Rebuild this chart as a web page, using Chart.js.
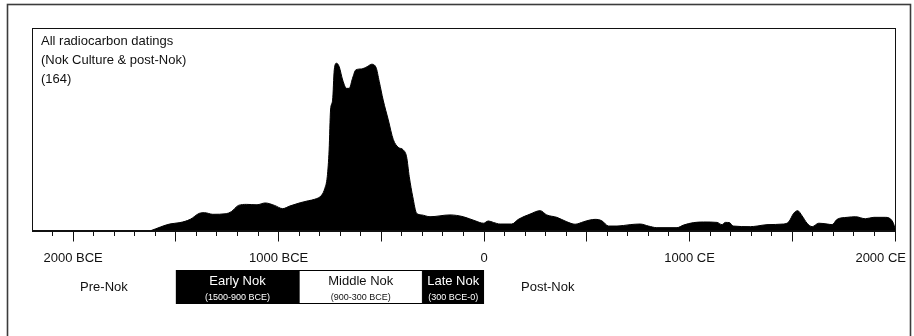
<!DOCTYPE html>
<html>
<head>
<meta charset="utf-8">
<script src="https://cdn.jsdelivr.net/npm/chart.js@4.4.1/dist/chart.umd.min.js"></script>
<style>
  html, body { margin: 0; padding: 0; background: #fff; }
  #wrap { position: relative; width: 914px; height: 336px; }
</style>
</head>
<body>
<div id="wrap"><canvas id="c" width="914" height="336"></canvas></div>
<script>
// Summed radiocarbon probability (relative units, 100 = top of frame)
const years = [
  -1620, -1530, -1480, -1430, -1385, -1360, -1320, -1255, -1230, -1195,
  -1155, -1105, -1065, -1020, -980, -945, -895, -855, -825, -790,
  -775, -763, -754, -747, -737, -729, -718, -705, -688, -669,
  -656, -640, -624, -596, -569, -547, -526, -510, -491, -466,
  -442, -418, -393, -377, -364, -347, -328, -304, -263, -166,
  -101, -44, -3, 21, 45, 78, 135, 167, 224, 273,
  305, 354, 403, 443, 484, 516, 541, 573, 606, 647,
  711, 760, 800, 841, 939, 971, 1020, 1068, 1134, 1158,
  1174, 1194, 1212, 1296, 1329, 1377, 1458, 1483, 1507, 1526,
  1548, 1572, 1597, 1629, 1670, 1694, 1718, 1767, 1808, 1856,
  1897, 1954, 1986, 2000
];
const density = [
  0, 3.2, 3.9, 5.5, 8.5, 8.8, 8.0, 8.3, 9.3, 12.4,
  12.9, 12.7, 13.6, 12.4, 10.8, 12.1, 13.7, 14.7, 15.4, 17.5,
  20.8, 26.6, 39.8, 59.5, 64.4, 79.3, 82.6, 80.9, 74.3, 70.2,
  70.2, 75.2, 79.3, 79.8, 80.9, 82.1, 80.6, 73.5, 64.4, 54.6,
  45.0, 41.1, 39.8, 36.4, 26.6, 16.7, 8.5, 7.7, 6.8, 7.7,
  6.8, 4.8, 3.6, 4.7, 4.0, 3.2, 3.2, 5.5, 8.1, 9.8,
  7.7, 6.5, 4.3, 3.1, 4.3, 5.2, 5.5, 4.8, 2.2, 2.2,
  2.9, 3.2, 2.2, 1.4, 1.4, 2.7, 3.9, 4.2, 4.0, 2.9,
  4.0, 3.9, 2.2, 1.9, 2.2, 2.9, 3.2, 4.3, 8.5, 9.8,
  7.2, 3.6, 1.9, 3.6, 3.2, 2.9, 5.5, 6.5, 6.8, 5.8,
  6.5, 6.5, 4.8, 1.5
];

// Axis: a tick every century, long ticks every 500 years
const axisMin = -2200;
const axisMax = 2000;
const tickYears = [];
for (let y = -2100; y <= 2000; y += 100) tickYears.push(y);
const labelYears = [-2000, -1000, 0, 1000, 2000];
const labelTexts = ['2000 BCE', '1000 BCE', '0', '1000 CE', '2000 CE'];

const titleLines = ['All radiocarbon datings', '(Nok Culture & post-Nok)', '(164)'];

// Phases of the Nok Culture
const phaseNames = ['Early Nok', 'Middle Nok', 'Late Nok'];
const phaseRanges = ['(1500-900 BCE)', '(900-300 BCE)', '(300 BCE-0)'];
const phaseStart = [-1500, -900, -300];
const phaseEnd = [-900, -300, 0];
const phaseDark = [true, false, true];
const outsideNames = ['Pre-Nok', 'Post-Nok'];
const outsideAt = [-1850, 310];

const FONT = '"Liberation Sans", Arial, Helvetica, sans-serif';

const decorations = {
  id: 'decorations',
  afterDraw(chart) {
    const { ctx, chartArea: a, scales } = chart;
    const xs = scales.x;
    ctx.save();

    // outer frame
    ctx.strokeStyle = '#3c3c3c';
    ctx.lineWidth = 1.6;
    ctx.strokeRect(7.5, 4.5, 903, 340);

    // plot frame
    ctx.strokeStyle = '#111';
    ctx.lineWidth = 1;
    ctx.strokeRect(Math.round(a.left) + 0.5, Math.round(a.top) + 0.5,
      Math.round(a.right - a.left), Math.round(a.bottom - a.top));

    // caption in the upper left corner
    ctx.fillStyle = '#111';
    ctx.font = '13px ' + FONT;
    ctx.textAlign = 'left';
    ctx.textBaseline = 'middle';
    titleLines.forEach((t, i) => ctx.fillText(t, a.left + 9, a.top + 13 + i * 19.3));

    // year labels under the axis, kept inside the outer frame
    ctx.textAlign = 'center';
    const labelY = a.bottom + 27.5;
    labelYears.forEach((yr, i) => {
      const w = ctx.measureText(labelTexts[i]).width;
      let cx = xs.getPixelForValue(yr);
      cx = Math.min(cx, chart.width - 8 - w / 2);
      ctx.fillText(labelTexts[i], cx, labelY);
    });

    // phase boxes
    const boxTop = a.bottom + 39.5;
    const boxH = 34;
    phaseNames.forEach((name, i) => {
      const x0 = xs.getPixelForValue(phaseStart[i]);
      const x1 = xs.getPixelForValue(phaseEnd[i]);
      if (phaseDark[i]) {
        ctx.fillStyle = '#000';
        ctx.fillRect(x0, boxTop, x1 - x0, boxH);
      } else {
        ctx.strokeStyle = '#000';
        ctx.lineWidth = 1;
        ctx.strokeRect(x0, boxTop + 0.5, x1 - x0, boxH - 1);
      }
      const cx = (x0 + x1) / 2;
      ctx.fillStyle = phaseDark[i] ? '#fff' : '#111';
      ctx.font = '13px ' + FONT;
      ctx.fillText(name, cx, boxTop + 11.5);
      ctx.font = '9px ' + FONT;
      ctx.fillText(phaseRanges[i], cx, boxTop + 28);
    });

    ctx.fillStyle = '#111';
    ctx.font = '13px ' + FONT;
    outsideNames.forEach((name, i) => {
      ctx.fillText(name, xs.getPixelForValue(outsideAt[i]), boxTop + 17);
    });

    ctx.restore();
  }
};

new Chart(document.getElementById('c'), {
  type: 'line',
  data: {
    datasets: [{
      data: years.map((yr, i) => ({ x: yr, y: density[i] })),
      fill: 'origin',
      backgroundColor: '#000',
      borderColor: '#000',
      borderWidth: 1,
      pointRadius: 0,
      cubicInterpolationMode: 'monotone'
    }]
  },
  options: {
    responsive: false,
    devicePixelRatio: 1,
    animation: false,
    layout: { padding: { left: 32, top: 28, right: 19, bottom: 94.5 } },
    plugins: { legend: { display: false }, tooltip: { enabled: false } },
    scales: {
      x: {
        type: 'linear',
        min: axisMin,
        max: axisMax,
        afterBuildTicks: (scale) => { scale.ticks = tickYears.map(v => ({ value: v })); },
        ticks: { display: false, autoSkip: false },
        border: { display: true, color: '#111', width: 1 },
        grid: {
          drawOnChartArea: false,
          tickLength: 11,
          tickColor: '#111',
          tickWidth: 1,
          tickBorderDash: (ctx) => (ctx.tick && ctx.tick.value % 500 === 0) ? [] : [5, 30]
        }
      },
      y: {
        display: false,
        min: 0,
        max: 100
      }
    }
  },
  plugins: [decorations]
});
</script>
</body>
</html>
